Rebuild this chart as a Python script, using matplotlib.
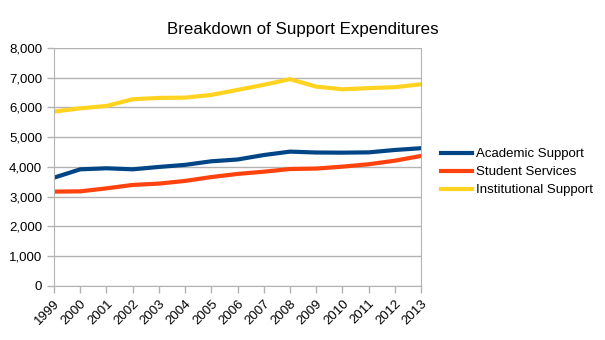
import matplotlib
matplotlib.use('Agg')
import matplotlib.pyplot as plt
from matplotlib.ticker import FuncFormatter

years = [1999, 2000, 2001, 2002, 2003, 2004, 2005, 2006, 2007, 2008, 2009, 2010, 2011, 2012, 2013]
academic = [3640, 3920, 3955, 3920, 4000, 4070, 4190, 4250, 4400, 4515, 4485, 4480, 4490, 4570, 4630]
student = [3170, 3180, 3280, 3395, 3440, 3530, 3660, 3765, 3840, 3930, 3945, 4010, 4090, 4210, 4370]
institutional = [5860, 5970, 6050, 6275, 6320, 6330, 6420, 6590, 6760, 6950, 6700, 6610, 6650, 6680, 6780]

plt.rcParams['font.family'] = ['Liberation Sans', 'DejaVu Sans']

fig = plt.figure(figsize=(6.05, 3.4), dpi=100)
ax = fig.add_axes([0.0893, 0.159, 0.6067, 0.7])

ax.plot(years, academic, color='#004586', lw=3, label='Academic Support')
ax.plot(years, student, color='#ff420e', lw=3, label='Student Services')
ax.plot(years, institutional, color='#ffd320', lw=3, label='Institutional Support')

ax.set_xlim(1999, 2013)
ax.set_ylim(0, 8000)
ax.set_yticks(range(0, 8001, 1000))
ax.yaxis.set_major_formatter(FuncFormatter(lambda v, p: f'{int(v):,}'))
ax.set_xticks(years)
ax.set_xticklabels([str(y) for y in years], rotation=45, ha='right', rotation_mode='anchor')
ax.tick_params(axis='both', colors='#b3b3b3', labelcolor='black', labelsize=9.5, length=5, width=1)
ax.grid(axis='y', color='#b3b3b3', lw=1)
ax.set_axisbelow(True)
for s in ['left', 'right', 'bottom']:
    ax.spines[s].set_color('#b3b3b3')
ax.spines['top'].set_visible(False)

fig.suptitle('Breakdown of Support Expenditures', x=0.5, y=0.935, fontsize=12.2)
ax.legend(loc='center left', bbox_to_anchor=(1.055, 0.478), frameon=False, fontsize=9.5,
          handlelength=2.3, handletextpad=0.3, labelspacing=0.45,
          borderaxespad=0, borderpad=0)

fig.savefig('out.png', dpi=100)
